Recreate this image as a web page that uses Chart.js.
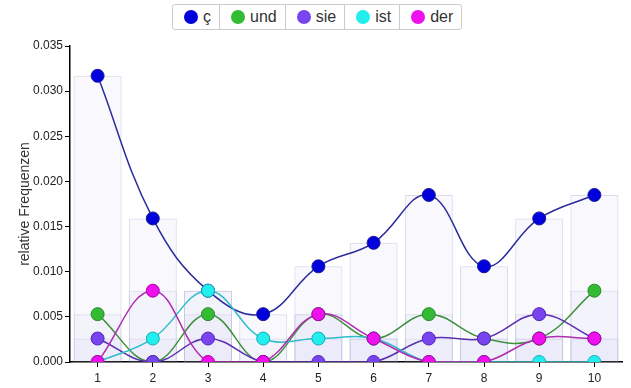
<!DOCTYPE html>
<html>
<head>
<meta charset="utf-8">
<script src="https://cdn.jsdelivr.net/npm/chart.js@4/dist/chart.umd.min.js"></script>
<style>
  html, body { margin: 0; padding: 0; background: #fff; }
  #wrap { position: relative; width: 631px; height: 388px; }
  #legend {
    position: absolute; left: 172px; top: 4px; height: 24px;
    display: flex; border: 1px solid #ccc; border-radius: 3px;
    font-family: "Liberation Sans", Arial, sans-serif; font-size: 16px; color: #333;
    background: #fff;
  }
  #legend .item {
    display: flex; align-items: center; padding: 0 8px 0 11px;
    border-left: 1px solid #ccc;
  }
  #legend .item:first-child { border-left: none; }
  #legend .dot {
    width: 14px; height: 14px; border-radius: 50%; margin-right: 5px;
  }
</style>
</head>
<body>
<div id="wrap">
  <canvas id="chart" width="631" height="388"></canvas>
  <div id="legend"></div>
</div>
<script>
// categories and series
const labels = ['1', '2', '3', '4', '5', '6', '7', '8', '9', '10'];
const seriesNames = ['ç', 'und', 'sie', 'ist', 'der'];

const cValues   = [0.0317, 0.0159, 0.0079, 0.0053, 0.0106, 0.0132, 0.0185, 0.0106, 0.0159, 0.0185];
const undValues = [0.0053, 0.0000, 0.0053, 0.0000, 0.0053, 0.0026, 0.0053, 0.0026, 0.0026, 0.0079];
const sieValues = [0.0026, 0.0000, 0.0026, 0.0000, 0.0000, 0.0000, 0.0026, 0.0026, 0.0053, 0.0026];
const istValues = [0.0000, 0.0026, 0.0079, 0.0026, 0.0026, 0.0026, 0.0000, 0.0000, 0.0000, 0.0000];
const derValues = [0.0000, 0.0079, 0.0000, 0.0000, 0.0053, 0.0026, 0.0000, 0.0000, 0.0026, 0.0026];

const yTicks = [0, 0.005, 0.010, 0.015, 0.020, 0.025, 0.030, 0.035];

const allValues = [cValues, undValues, sieValues, istValues, derValues];
const lineColors  = ['#2b2b9c', '#3f8f3f', '#5b2fb0', '#2cbccc', '#b02db0'];
const pointColors = ['#0000dd', '#33bb33', '#7744ee', '#22eeee', '#ee11ee'];
const pointBorders = ['#1a1a99', '#2a8a2a', '#5522bb', '#11aabb', '#aa00aa'];

const datasets = [];

// points on top, later series above earlier ones
allValues.forEach((vals, i) => {
    datasets.push({
        type: 'line',
        label: seriesNames[i],
        data: vals,
        showLine: false,
        backgroundColor: pointColors[i],
        pointBackgroundColor: pointColors[i],
        pointBorderColor: pointBorders[i],
        pointBorderWidth: 1,
        pointRadius: 6.5,
        clip: 0,
        order: 4 - i
    });
});

// smooth lines under the points
allValues.forEach((vals, i) => {
    datasets.push({
        type: 'line',
        label: seriesNames[i] + ' line',
        data: vals,
        borderColor: lineColors[i],
        borderWidth: 1.5,
        pointRadius: 0,
        tension: 0.4,
        fill: false,
        clip: 0,
        order: 5 + (4 - i)
    });
});

// faint overlapping bars behind everything
allValues.forEach((vals, i) => {
    datasets.push({
        type: 'bar',
        label: seriesNames[i] + ' bar',
        data: vals,
        backgroundColor: 'rgba(225, 225, 245, 0.22)',
        borderColor: 'rgba(195, 195, 225, 0.6)',
        borderWidth: 1,
        grouped: false,
        barPercentage: 0.87,
        categoryPercentage: 1,
        order: 20
    });
});

const ctx = document.getElementById('chart').getContext('2d');
new Chart(ctx, {
    data: { labels: labels, datasets: datasets },
    options: {
        responsive: false,
        animation: false,
        layout: { padding: { top: 46, right: 9, left: 0, bottom: 0 } },
        plugins: {
            legend: { display: false },
            tooltip: { enabled: false }
        },
        scales: {
            x: {
                offset: true,
                grid: { drawOnChartArea: false, drawTicks: true, tickLength: 5, color: '#000', offset: false },
                border: { color: '#000', width: 1.5 },
                ticks: {
                    color: '#222', padding: 4, maxRotation: 0,
                    font: { family: '"Liberation Sans", Arial, sans-serif', size: 12 }
                },
                afterFit: function (scale) { scale.height = 26; }
            },
            y: {
                min: 0,
                max: 0.035,
                afterBuildTicks: function (scale) {
                    scale.ticks = yTicks.map(v => ({ value: v }));
                },
                grid: { drawOnChartArea: false, drawTicks: true, tickLength: 5, color: '#000' },
                border: { color: '#000', width: 1.5 },
                ticks: {
                    color: '#222', padding: 2,
                    font: { family: '"Liberation Sans", Arial, sans-serif', size: 12 },
                    callback: v => v.toFixed(3)
                },
                title: {
                    display: true,
                    text: 'relative Frequenzen',
                    color: '#333',
                    padding: { top: 17, bottom: 0 },
                    font: { family: '"Liberation Sans", Arial, sans-serif', size: 14 }
                },
                afterFit: function (scale) { scale.width = 70; }
            }
        }
    }
});

// html legend
const legend = document.getElementById('legend');
seriesNames.forEach((name, i) => {
    const item = document.createElement('div');
    item.className = 'item';
    const dot = document.createElement('span');
    dot.className = 'dot';
    dot.style.background = pointColors[i];
    const txt = document.createElement('span');
    txt.textContent = name;
    item.appendChild(dot);
    item.appendChild(txt);
    legend.appendChild(item);
});
</script>
</body>
</html>
